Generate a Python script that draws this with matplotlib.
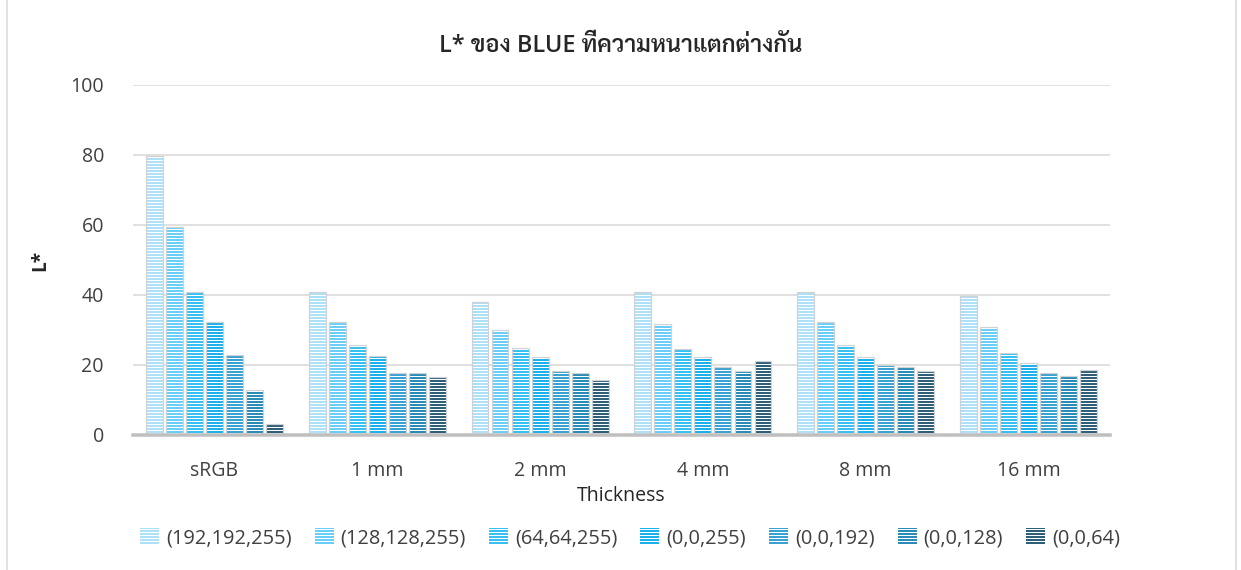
import matplotlib
matplotlib.use("Agg")
import matplotlib.pyplot as plt
import numpy as np

categories = ["sRGB", "1 mm", "2 mm", "4 mm", "8 mm", "16 mm"]
series_labels = ["(192,192,255)", "(128,128,255)", "(64,64,255)", "(0,0,255)",
                 "(0,0,192)", "(0,0,128)", "(0,0,64)"]
s_192_192_255 = [79.7, 40.8, 37.9, 40.8, 40.8, 39.8]
s_128_128_255 = [59.3, 32.4, 30.1, 31.8, 32.4, 30.8]
s_64_64_255 = [40.8, 25.6, 24.9, 24.5, 25.6, 23.4]
s_0_0_255 = [32.2, 22.7, 22.2, 22.2, 22.2, 20.5]
s_0_0_192 = [22.9, 17.7, 18.4, 19.5, 20.0, 17.8]
s_0_0_128 = [12.8, 17.7, 17.7, 18.4, 19.3, 16.8]
s_0_0_64 = [3.1, 16.7, 15.6, 21.1, 18.4, 18.5]
series_values = [s_192_192_255, s_128_128_255, s_64_64_255, s_0_0_255,
                 s_0_0_192, s_0_0_128, s_0_0_64]
colors = ["#aee0f7", "#6bcef8", "#38c0f3", "#1cb1ec", "#3aa2d2", "#2a8cb6", "#2f5f78"]
y_ticks = [0, 20, 40, 60, 80, 100]

title = "L* ของ BLUE ที่ความหนาแตกต่างกัน"

DPI = 72
W, H = 1241, 570
plt.rcParams['hatch.linewidth'] = 1.0
plt.rcParams['font.family'] = ['Open Sans', 'Sarabun', 'DejaVu Sans']

fig = plt.figure(figsize=(W / DPI, H / DPI), dpi=DPI)
ax = fig.add_axes([133 / W, 1 - 435 / H, (1110 - 133) / W, (435 - 85) / H])

x = np.arange(len(categories))
step = 0.123
bw = 0.104
n = len(series_values)
for i, (vals, col, lab) in enumerate(zip(series_values, colors, series_labels)):
    off = (i - (n - 1) / 2) * step
    ax.bar(x + off, vals, width=bw, color=col, edgecolor="white", hatch="----",
           linewidth=0, label=lab, zorder=3)
    ax.bar(x + off, vals, width=bw, facecolor="none", edgecolor="#cfd3d6",
           linewidth=1.2, zorder=4)

ax.set_xlim(-0.5, len(categories) - 0.5)
ax.set_ylim(0, 100)
ax.set_yticks(y_ticks)
ax.set_xticks(x)
ax.set_xticklabels(categories)
ax.tick_params(axis="both", length=0, labelsize=19.5, labelcolor="#404040")
ax.tick_params(axis="y", pad=29)
ax.tick_params(axis="x", pad=26)
ax.grid(axis="y", color="#d9d9d9", linewidth=1.6, zorder=0)
ax.set_axisbelow(True)
for s in ["top", "right", "left"]:
    ax.spines[s].set_visible(False)
ax.spines["bottom"].set_color("#bfbfbf")
ax.spines["bottom"].set_linewidth(3.5)
ax.spines["bottom"].set_zorder(5)

ax.set_ylabel("L*", fontsize=19, fontweight="bold", color="#262626", labelpad=20)
ax.set_xlabel("Thickness", fontsize=19.5, color="#262626", labelpad=5)

fig.text(621 / W, 1 - 46 / H, title, ha="center", va="center", fontsize=23.5,
         fontweight="semibold", color="#262626", family=["Open Sans", "Sarabun"])

leg = ax.legend(loc="center", bbox_to_anchor=(630 / W, 1 - 538 / H),
                bbox_transform=fig.transFigure, ncol=7, frameon=False,
                fontsize=20, handlelength=0.95, handleheight=0.95,
                handletextpad=0.35, columnspacing=1.15, borderaxespad=0)
for t in leg.get_texts():
    t.set_color("#404040")

fig.add_artist(plt.Line2D([7 / W, 7 / W], [0, 1], transform=fig.transFigure,
                          color="#d9d9d9", linewidth=1.5))
fig.add_artist(plt.Line2D([1236 / W, 1236 / W], [0, 1], transform=fig.transFigure,
                          color="#d9d9d9", linewidth=1.5))

fig.savefig("out.png", dpi=DPI)
